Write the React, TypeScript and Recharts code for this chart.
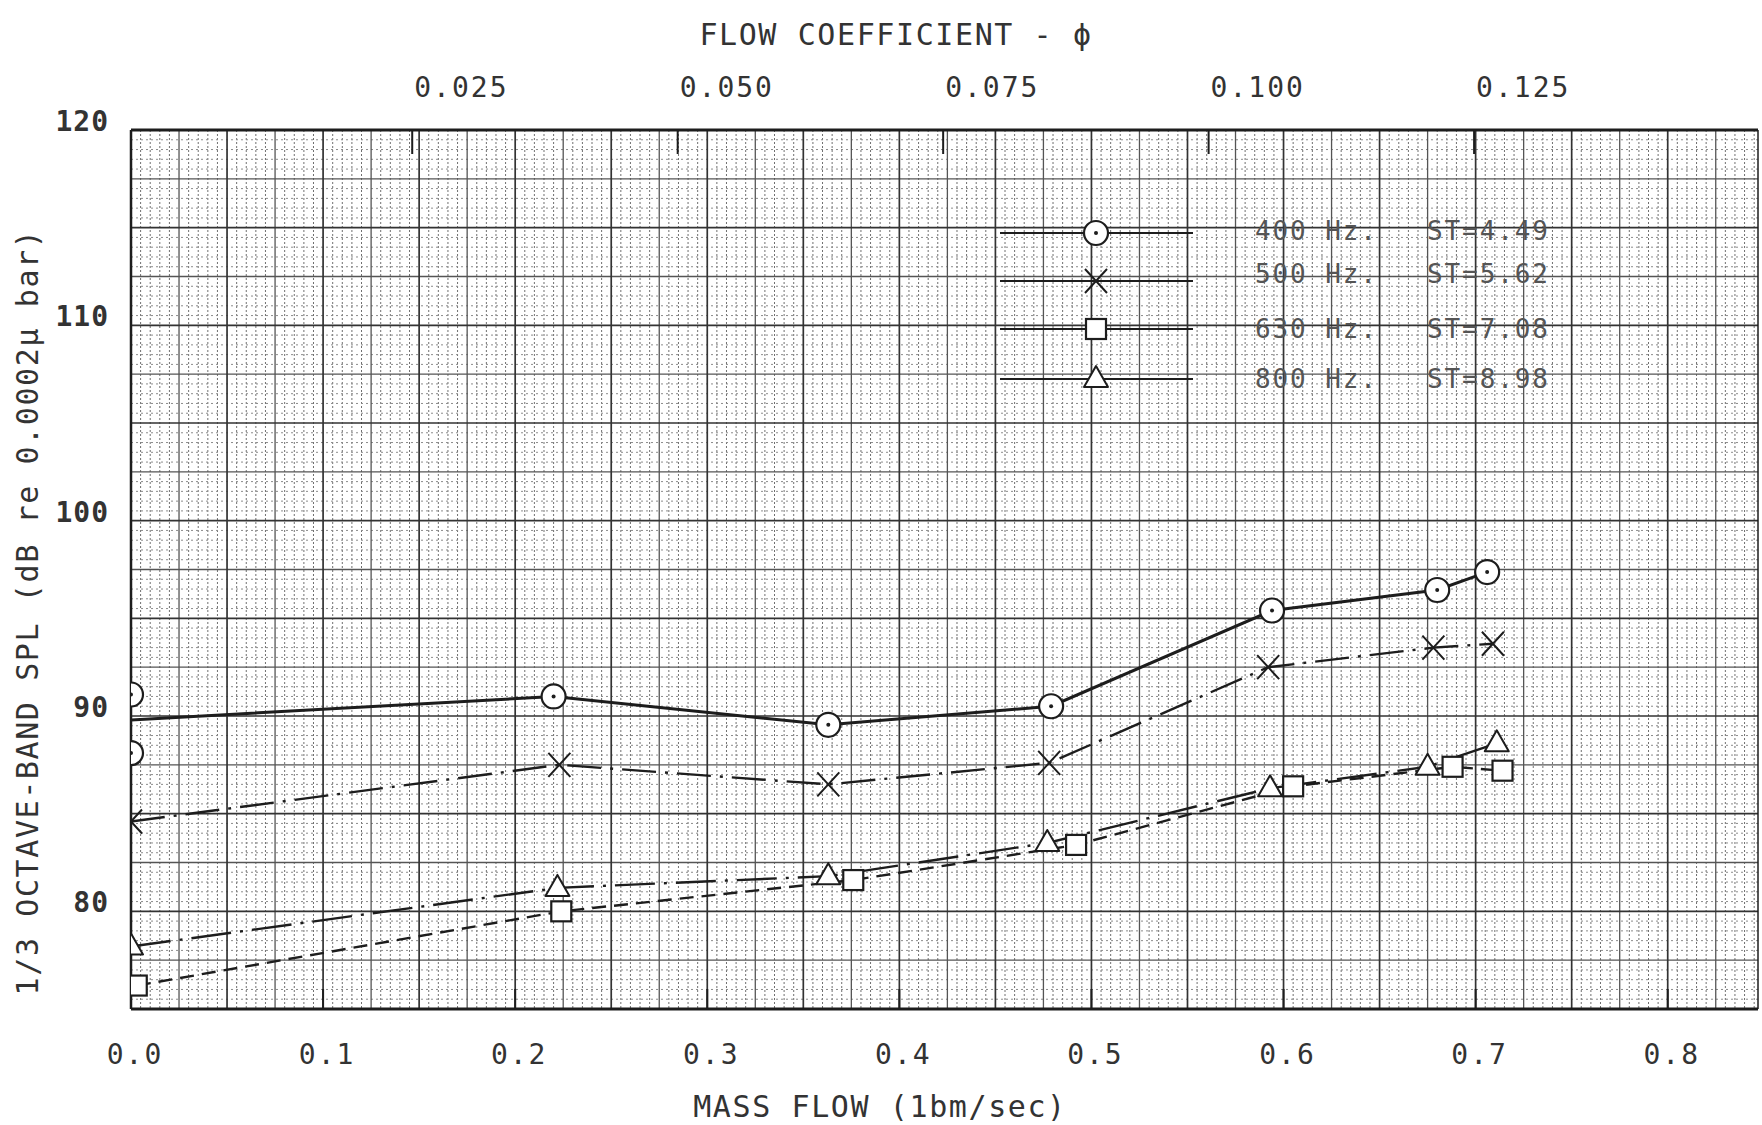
import {
  ComposedChart, Line, Scatter, XAxis, YAxis, CartesianGrid, Legend,
} from 'recharts';

const INK = '#1d1d1d';
const TYPE_FONT = '"DejaVu Sans Mono", "Liberation Mono", monospace';

// axis ticks
const MASS_TICKS = [0, 0.1, 0.2, 0.3, 0.4, 0.5, 0.6, 0.7, 0.8];
const PHI_TICKS = [0.025, 0.05, 0.075, 0.1, 0.125];
const SPL_TICKS = [80, 90, 100, 110, 120];

// 400 Hz band: two readings at zero flow, curve faired from their mean
const FLOW_400 = [0, 0, 0.220, 0.363, 0.479, 0.594, 0.680, 0.706];
const SPL_400 = [91.1, 88.1, 91.0, 89.55, 90.5, 95.4, 96.45, 97.37];
const CURVE_FLOW_400 = [0, 0.220, 0.363, 0.479, 0.594, 0.680, 0.706];
const CURVE_SPL_400 = [89.8, 91.0, 89.55, 90.5, 95.4, 96.45, 97.37];

// 500 Hz band
const FLOW_500 = [0, 0.223, 0.363, 0.478, 0.592, 0.678, 0.709];
const SPL_500 = [84.6, 87.5, 86.5, 87.6, 92.5, 93.5, 93.7];

// 630 Hz band
const FLOW_630 = [0.003, 0.224, 0.376, 0.492, 0.605, 0.688, 0.714];
const SPL_630 = [76.2, 80.0, 81.6, 83.4, 86.4, 87.4, 87.2];

// 800 Hz band
const FLOW_800 = [0, 0.222, 0.363, 0.477, 0.593, 0.675, 0.711];
const SPL_800 = [78.2, 81.2, 81.8, 83.5, 86.3, 87.4, 88.6];

// flow coefficient printed along the top: m = PHI_M0 + PHI_SLOPE * phi
const MASS_MAX = 0.847;
const PHI_M0 = 0.0082;
const PHI_SLOPE = 5.528;
const phiToMass = (phi: number) => PHI_M0 + PHI_SLOPE * phi;
const massToPhi = (m: number) => (m - PHI_M0) / PHI_SLOPE;

const pts = (xs: number[], ys: number[]) => xs.map((x, i) => ({ x, y: ys[i] }));

type MarkerKind = 'circle' | 'cross' | 'square' | 'triangle';

const SERIES: {
  band: string; st: string; marker: MarkerKind; dash?: string; width: number;
  points: { x: number; y: number }[]; curve: { x: number; y: number }[];
}[] = [
  { band: '400 Hz.', st: 'ST=4.49', marker: 'circle', width: 3,
    points: pts(FLOW_400, SPL_400), curve: pts(CURVE_FLOW_400, CURVE_SPL_400) },
  { band: '500 Hz.', st: 'ST=5.62', marker: 'cross', dash: '34 9 3 9', width: 2.4,
    points: pts(FLOW_500, SPL_500), curve: pts(FLOW_500, SPL_500) },
  { band: '630 Hz.', st: 'ST=7.08', marker: 'square', dash: '14 8', width: 2.4,
    points: pts(FLOW_630, SPL_630), curve: pts(FLOW_630, SPL_630) },
  { band: '800 Hz.', st: 'ST=8.98', marker: 'triangle', dash: '40 9 3 9', width: 2.4,
    points: pts(FLOW_800, SPL_800), curve: pts(FLOW_800, SPL_800) },
];

// graph paper rulings: fine every 0.005 / 0.5 dB, medium every 5th, heavy every 10th
const vFine: number[] = [], vMid: number[] = [], vHeavy: number[] = [];
for (let i = 0; i * 0.005 <= MASS_MAX; i++) {
  const v = Math.round(i * 5) / 1000;
  if (i % 10 === 0) vHeavy.push(v); else if (i % 5 === 0) vMid.push(v); else vFine.push(v);
}
const hFine: number[] = [], hMid: number[] = [], hHeavy: number[] = [];
for (let j = 0; j <= 90; j++) {
  const v = 75 + j * 0.5;
  if (j % 10 === 0) hHeavy.push(v); else if (j % 5 === 0) hMid.push(v); else hFine.push(v);
}

function Marker({ kind, cx, cy }: { kind: MarkerKind; cx: number; cy: number }) {
  if (cx == null || cy == null) return null;
  switch (kind) {
    case 'circle':
      return (
        <g>
          <circle cx={cx} cy={cy} r={12} fill="#fff" stroke={INK} strokeWidth={2.2} />
          <circle cx={cx} cy={cy} r={2} fill={INK} />
        </g>
      );
    case 'cross':
      return (
        <path d={`M${cx - 11},${cy - 12}L${cx + 11},${cy + 12}M${cx + 11},${cy - 12}L${cx - 11},${cy + 12}`}
          stroke={INK} strokeWidth={2} fill="none" />
      );
    case 'square':
      return <rect x={cx - 10} y={cy - 10} width={20} height={20} fill="#fff" stroke={INK} strokeWidth={2.2} />;
    default:
      return (
        <path d={`M${cx},${cy - 13}L${cx + 12},${cy + 8}L${cx - 12},${cy + 8}Z`}
          fill="#fff" stroke={INK} strokeWidth={2} strokeLinejoin="round" />
      );
  }
}

const KEY_ROWS = [33, 81, 129, 179];
const KEY_TEXT_DY = [-2, -7, 0, 0];

function PlotKey() {
  const keyText = { fontFamily: TYPE_FONT, fontSize: 26, letterSpacing: 1.9, fill: '#555' };
  return (
    <svg width={620} height={200} style={{ display: 'block' }}>
      {SERIES.map((s, i) => {
        const y = KEY_ROWS[i];
        const ty = y + 9 + KEY_TEXT_DY[i];
        return (
          <g key={s.band}>
            <line x1={10} x2={203} y1={y} y2={y} stroke={INK} strokeWidth={1.8} />
            <Marker kind={s.marker} cx={106} cy={y} />
            <text x={265} y={ty} {...keyText}>{s.band}</text>
            <text x={437} y={ty} {...keyText}>{s.st}</text>
          </g>
        );
      })}
    </svg>
  );
}

const tickText = { fontFamily: TYPE_FONT, fontSize: 28, letterSpacing: 2, fill: '#333' };

function MassTick({ x, y, payload }: any) {
  return (
    <g>
      {payload.value > 0 && <line x1={x} x2={x} y1={y} y2={y - 20} stroke={INK} strokeWidth={2} />}
      <text x={x + 4} y={y + 55} textAnchor="middle" {...tickText}>{payload.value.toFixed(1)}</text>
    </g>
  );
}

function PhiTick({ x, y, payload }: any) {
  return (
    <g>
      <line x1={x} x2={x} y1={y} y2={y + 24} stroke={INK} strokeWidth={2} />
      <text x={x + 2} y={y - 33} textAnchor="start" {...tickText}>{massToPhi(payload.value).toFixed(3)}</text>
    </g>
  );
}

function SplTick({ x, y, payload }: any) {
  return (
    <text x={x - 22} y={y + 1} textAnchor="end" fontFamily={TYPE_FONT} fontSize={28} fontWeight="bold"
      letterSpacing={1} fill="#333">{payload.value}</text>
  );
}

const titleText = { fontFamily: TYPE_FONT, fontSize: 30, letterSpacing: 1.6, fill: '#333' };

export default function App() {
  return (
    <div style={{ position: 'absolute', left: 0, top: 0, width: 1762, height: 1125, background: '#fff' }}>
      <ComposedChart width={1762} height={1125} margin={{ top: 0, right: 0, bottom: 0, left: 0 }}>
        <CartesianGrid vertical horizontal={false} verticalValues={vFine} stroke="#707070" strokeWidth={1} strokeDasharray="2 2" />
        <CartesianGrid vertical={false} horizontal horizontalValues={hFine} stroke="#8c8c8c" strokeWidth={1} strokeDasharray="2 3" />
        <CartesianGrid vertical horizontal={false} verticalValues={vMid} stroke="#555" strokeWidth={1.3} />
        <CartesianGrid vertical={false} horizontal horizontalValues={hMid} stroke="#555" strokeWidth={1.3} />
        <CartesianGrid vertical horizontal={false} verticalValues={vHeavy} stroke="#333" strokeWidth={1.7} />
        <CartesianGrid vertical={false} horizontal horizontalValues={hHeavy} stroke="#333" strokeWidth={1.7} />

        <XAxis xAxisId={0} dataKey="x" type="number" domain={[0, MASS_MAX]} ticks={MASS_TICKS} interval={0}
          allowDataOverflow height={116} axisLine={{ stroke: INK, strokeWidth: 3 }} tickLine={false}
          tickSize={0} tickMargin={0} tick={MassTick}
          label={() => <text x={880} y={1117} textAnchor="middle" {...titleText}>MASS FLOW (1bm/sec)</text>} />
        {/* same mass-flow scale, ticked at round flow-coefficient values */}
        <XAxis xAxisId="top" orientation="top" dataKey="x" type="number" domain={[0, MASS_MAX]}
          ticks={PHI_TICKS.map(phiToMass)} interval={0} allowDataOverflow height={130}
          axisLine={{ stroke: INK, strokeWidth: 3 }} tickLine={false} tickSize={0} tickMargin={0} tick={PhiTick}
          label={() => <text x={896} y={45} textAnchor="middle" {...titleText}>FLOW COEFFICIENT - ϕ</text>} />
        <YAxis yAxisId={0} dataKey="y" type="number" domain={[75, 120]} ticks={SPL_TICKS} interval={0}
          allowDataOverflow width={131} axisLine={{ stroke: INK, strokeWidth: 2.5 }} tickLine={false}
          tickSize={0} tickMargin={0} tick={SplTick}
          label={() => (
            <text x={27} y={612} transform="rotate(-90, 27, 612)" textAnchor="middle" dominantBaseline="central"
              {...titleText}>1/3 OCTAVE-BAND SPL (dB re 0.0002μ bar)</text>
          )} />
        <YAxis yAxisId="edge" orientation="right" type="number" domain={[75, 120]} width={4} tick={false}
          tickLine={false} axisLine={{ stroke: INK, strokeWidth: 1.5 }} />

        {SERIES.map((s) => (
          <Line key={`c-${s.band}`} data={s.curve} dataKey="y" xAxisId={0} type="linear" stroke={INK}
            strokeWidth={s.width} strokeDasharray={s.dash} dot={false} activeDot={false}
            isAnimationActive={false} legendType="none" />
        ))}
        {SERIES.map((s) => (
          <Scatter key={`p-${s.band}`} data={s.points} dataKey="y" xAxisId="top" isAnimationActive={false}
            legendType="none" shape={(p: any) => <Marker kind={s.marker} cx={p.cx} cy={p.cy} />} />
        ))}

        <Legend layout="horizontal" verticalAlign="middle" align="center" content={() => <PlotKey />}
          wrapperStyle={{ left: 990, top: 200, width: 620, height: 200 }} />
      </ComposedChart>
    </div>
  );
}
